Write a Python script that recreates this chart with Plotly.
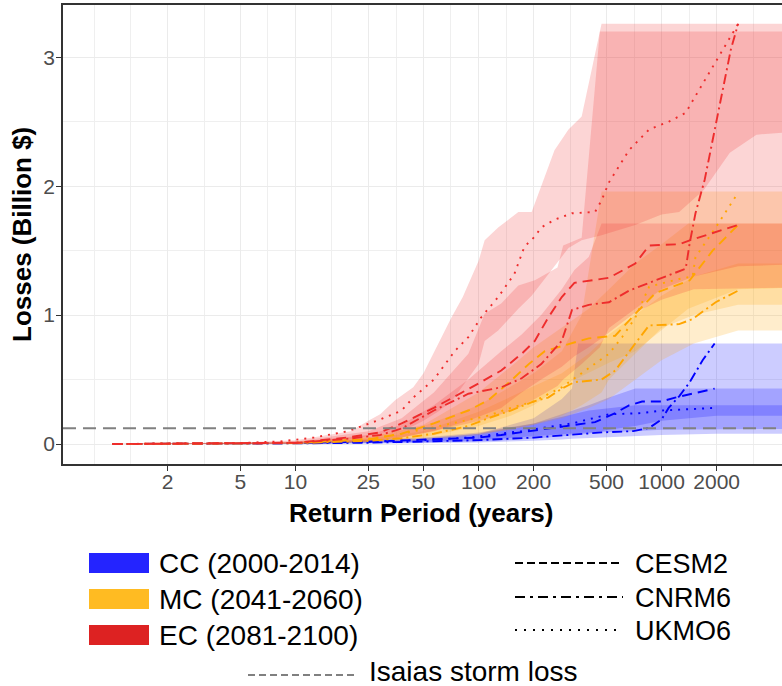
import plotly.graph_objects as go

# ---------------- data: return period (years) vs. loss (billion $) ----------------
cc_cesm2_rp = [1, 5, 10, 25, 50, 100, 133, 240, 324, 433, 558, 664, 783, 1000, 1186, 1950]
cc_cesm2_loss = [0, 0.003, 0.008, 0.018, 0.035, 0.05, 0.07, 0.12, 0.15, 0.17, 0.24, 0.30, 0.33, 0.33, 0.36, 0.43]
cc_cnrm6_rp = [1, 5, 10, 25, 50, 100, 200, 300, 470, 700, 855, 1000, 1093, 1248, 1425, 1676, 1950]
cc_cnrm6_loss = [0, 0.002, 0.005, 0.01, 0.018, 0.03, 0.05, 0.07, 0.09, 0.10, 0.125, 0.19, 0.28, 0.37, 0.48, 0.65, 0.78]
cc_ukmo6_rp = [1, 5, 10, 25, 50, 88, 172, 324, 433, 516, 783, 1000, 1950]
cc_ukmo6_loss = [0, 0.003, 0.008, 0.018, 0.03, 0.05, 0.10, 0.16, 0.20, 0.23, 0.24, 0.26, 0.28]

mc_cesm2_rp = [1, 5, 10, 25, 38, 57, 88, 113, 150, 188, 230, 285, 400, 558, 718, 924, 1425, 1900, 2390, 2620]
mc_cesm2_loss = [0, 0.003, 0.008, 0.035, 0.08, 0.16, 0.26, 0.34, 0.49, 0.62, 0.72, 0.76, 0.82, 0.84, 1.01, 1.17, 1.27, 1.50, 1.64, 1.70]
mc_cnrm6_rp = [1, 5, 10, 25, 38, 57, 88, 113, 150, 200, 240, 285, 334, 470, 558, 718, 855, 1248, 1478, 1975, 2620]
mc_cnrm6_loss = [0, 0.002, 0.006, 0.025, 0.045, 0.08, 0.14, 0.20, 0.26, 0.33, 0.36, 0.43, 0.48, 0.50, 0.57, 0.78, 0.92, 0.93, 0.97, 1.10, 1.19]
mc_ukmo6_rp = [1, 5, 10, 25, 38, 57, 88, 113, 150, 200, 285, 400, 516, 609, 718, 855, 1248, 1478, 1532, 1975, 2620]
mc_ukmo6_loss = [0, 0.003, 0.01, 0.04, 0.08, 0.13, 0.19, 0.22, 0.28, 0.33, 0.44, 0.59, 0.70, 0.83, 0.98, 1.22, 1.28, 1.30, 1.45, 1.68, 1.95]

ec_cesm2_rp = [1, 5, 10, 19, 29, 38, 57, 100, 133, 172, 203, 240, 285, 334, 516, 718, 855, 1248, 1425, 2620]
ec_cesm2_loss = [0, 0.004, 0.01, 0.05, 0.09, 0.16, 0.28, 0.47, 0.57, 0.70, 0.80, 0.98, 1.14, 1.25, 1.29, 1.40, 1.54, 1.55, 1.58, 1.70]
ec_cnrm6_rp = [1, 5, 10, 19, 29, 38, 57, 88, 133, 172, 220, 285, 324, 400, 516, 664, 855, 1355, 1425, 1532, 1720, 2026, 2390, 2620]
ec_cnrm6_loss = [0, 0.003, 0.008, 0.04, 0.07, 0.12, 0.26, 0.39, 0.44, 0.51, 0.62, 0.80, 1.04, 1.08, 1.10, 1.19, 1.25, 1.36, 1.56, 1.79, 2.05, 2.54, 3.06, 3.26]
ec_ukmo6_rp = [1, 5, 8.3, 12.6, 19.4, 29, 38, 44, 57, 74, 88, 103, 128, 157, 178, 203, 220, 260, 324, 433, 470, 516, 664, 855, 1093, 1355, 1532, 1975, 2620]
ec_ukmo6_loss = [0, 0.008, 0.02, 0.05, 0.10, 0.19, 0.26, 0.36, 0.50, 0.72, 0.83, 0.98, 1.14, 1.32, 1.53, 1.61, 1.68, 1.74, 1.79, 1.80, 1.89, 2.03, 2.28, 2.44, 2.50, 2.57, 2.70, 2.96, 3.26]

# ---------------- confidence bands (lower / upper) ----------------
cc_cesm2_band_rp = [1, 10, 50, 100, 200, 285, 400, 516, 718, 1000, 2000, 8000]
cc_cesm2_band_lo = [0, 0.002, 0.012, 0.02, 0.04, 0.06, 0.08, 0.11, 0.14, 0.18, 0.22, 0.22]
cc_cesm2_band_hi = [0, 0.01, 0.045, 0.08, 0.16, 0.23, 0.30, 0.36, 0.43, 0.43, 0.43, 0.43]
cc_cnrm6_band_rp = [1, 10, 25, 50, 100, 200, 285, 324, 350, 400, 1000, 2000, 8000]
cc_cnrm6_band_lo = [0, 0, 0.002, 0.005, 0.012, 0.025, 0.035, 0.04, 0.045, 0.05, 0.07, 0.08, 0.08]
cc_cnrm6_band_hi = [0, 0.008, 0.02, 0.04, 0.08, 0.2, 0.35, 0.43, 0.78, 0.78, 0.78, 0.78, 0.78]
cc_ukmo6_band_rp = [1, 10, 50, 100, 200, 285, 400, 718, 1000, 8000]
cc_ukmo6_band_lo = [0, 0.003, 0.015, 0.03, 0.06, 0.075, 0.09, 0.10, 0.11, 0.12]
cc_ukmo6_band_hi = [0, 0.012, 0.05, 0.09, 0.16, 0.21, 0.26, 0.30, 0.30, 0.30]

mc_cesm2_band_rp = [1, 10, 25, 50, 100, 150, 200, 285, 400, 516, 718, 1000, 1400, 2620, 8000]
mc_cesm2_band_lo = [0, 0.003, 0.02, 0.05, 0.14, 0.22, 0.30, 0.45, 0.55, 0.63, 0.72, 0.88, 1.05, 1.2, 1.22]
mc_cesm2_band_hi = [0, 0.015, 0.05, 0.15, 0.40, 0.60, 0.75, 0.90, 1.05, 1.20, 1.40, 1.55, 1.71, 1.71, 1.71]
mc_cnrm6_band_rp = [1, 10, 25, 50, 100, 200, 285, 400, 516, 718, 1000, 1500, 2620, 8000]
mc_cnrm6_band_lo = [0, 0.002, 0.012, 0.03, 0.07, 0.15, 0.2, 0.28, 0.35, 0.5, 0.65, 0.78, 0.88, 0.88]
mc_cnrm6_band_hi = [0, 0.01, 0.04, 0.1, 0.25, 0.45, 0.55, 0.7, 0.85, 1.0, 1.15, 1.3, 1.4, 1.4]
mc_ukmo6_band_rp = [1, 10, 25, 50, 100, 150, 200, 285, 366, 470, 516, 718, 1000, 1500, 2620, 8000]
mc_ukmo6_band_lo = [0, 0.003, 0.015, 0.04, 0.08, 0.11, 0.15, 0.22, 0.3, 0.4, 0.5, 0.7, 0.9, 1.0, 1.08, 1.08]
mc_ukmo6_band_hi = [0, 0.015, 0.06, 0.14, 0.30, 0.45, 0.55, 0.72, 1.0, 1.96, 1.96, 1.96, 1.96, 1.96, 1.96, 1.96]

ec_cesm2_band_rp = [1, 10, 25, 38, 57, 88, 133, 172, 220, 285, 334, 400, 470, 718, 1000, 1500, 8000]
ec_cesm2_band_lo = [0, 0.003, 0.02, 0.05, 0.1, 0.18, 0.28, 0.4, 0.5, 0.6, 0.68, 0.75, 0.82, 1.02, 1.12, 1.2, 1.22]
ec_cesm2_band_hi = [0, 0.015, 0.07, 0.15, 0.3, 0.5, 0.72, 0.85, 1.0, 1.2, 1.35, 1.45, 1.71, 1.71, 1.71, 1.71, 1.71]
ec_cnrm6_band_rp = [1, 10, 25, 38, 57, 88, 108, 133, 165, 203, 270, 290, 366, 460, 516, 718, 1000, 1500, 2620, 8000]
ec_cnrm6_band_lo = [0, 0.003, 0.02, 0.05, 0.1, 0.16, 0.19, 0.23, 0.28, 0.35, 0.45, 0.5, 0.62, 0.75, 0.9, 1.05, 1.2, 1.3, 1.38, 1.4]
ec_cnrm6_band_hi = [0, 0.02, 0.1, 0.2, 0.4, 0.7, 1.01, 1.09, 1.23, 1.27, 1.37, 1.54, 1.60, 3.20, 3.20, 3.2, 3.2, 3.2, 3.2, 3.2]
ec_ukmo6_band_rp = [1, 5, 10, 20, 25, 29, 35, 44, 50, 60, 71, 82, 100, 108, 128, 165, 195, 220, 260, 310, 366, 470, 718, 1000, 1248, 1700, 2360, 3300, 8000]
ec_ukmo6_band_lo = [0, 0.002, 0.01, 0.04, 0.06, 0.08, 0.1, 0.14, 0.18, 0.25, 0.33, 0.45, 0.62, 0.8, 0.88, 1.05, 1.15, 1.25, 1.38, 1.52, 1.58, 1.62, 1.70, 1.78, 1.80, 1.97, 2.26, 2.40, 2.44]
ec_ukmo6_band_hi = [0, 0.01, 0.03, 0.1, 0.18, 0.23, 0.34, 0.44, 0.55, 0.78, 0.98, 1.14, 1.42, 1.58, 1.68, 1.80, 1.80, 2.0, 2.28, 2.44, 2.54, 3.26, 3.26, 3.26, 3.26, 3.26, 3.26, 3.26, 3.26]

isaias_loss = 0.122

x_tick_vals = [2, 5, 10, 25, 50, 100, 200, 500, 1000, 2000]
x_minor_vals = [0.795, 1.257, 3.162, 7.07, 15.8, 35.4, 70.7, 141.4, 316.2, 707.1, 1414, 3162]
y_tick_vals = [0, 1, 2, 3]
y_minor_vals = [0.5, 1.5, 2.5]

periods = ["CC", "MC", "EC"]
period_labels = ["CC (2000-2014)", "MC (2041-2060)", "EC (2081-2100)"]
models = ["CESM2", "CNRM6", "UKMO6"]

# ---------------- styling ----------------
LINE_COLOR = {"CC": "#0000FF", "MC": "#FFA500", "EC": "#EE2C2C"}
FILL_COLOR = {"CC": "rgba(0,0,255,0.2)", "MC": "rgba(255,165,0,0.2)", "EC": "rgba(238,44,44,0.2)"}
KEY_COLOR = {"CC": "#2424FF", "MC": "#FFBB22", "EC": "#DD2222"}
DASH = {"CESM2": "10px,6px", "CNRM6": "10px,4px,2px,4px", "UKMO6": "2px,6px"}
KEY_DASH = {"CESM2": "8px,4px", "CNRM6": "10px,5px,3px,5px", "UKMO6": "2px,7px"}
FONT = "Liberation Sans, Arial, sans-serif"

lines = {
    ("CC", "CESM2"): (cc_cesm2_rp, cc_cesm2_loss),
    ("CC", "CNRM6"): (cc_cnrm6_rp, cc_cnrm6_loss),
    ("CC", "UKMO6"): (cc_ukmo6_rp, cc_ukmo6_loss),
    ("MC", "CESM2"): (mc_cesm2_rp, mc_cesm2_loss),
    ("MC", "CNRM6"): (mc_cnrm6_rp, mc_cnrm6_loss),
    ("MC", "UKMO6"): (mc_ukmo6_rp, mc_ukmo6_loss),
    ("EC", "CESM2"): (ec_cesm2_rp, ec_cesm2_loss),
    ("EC", "CNRM6"): (ec_cnrm6_rp, ec_cnrm6_loss),
    ("EC", "UKMO6"): (ec_ukmo6_rp, ec_ukmo6_loss),
}
bands = {
    ("CC", "CESM2"): (cc_cesm2_band_rp, cc_cesm2_band_lo, cc_cesm2_band_hi),
    ("CC", "CNRM6"): (cc_cnrm6_band_rp, cc_cnrm6_band_lo, cc_cnrm6_band_hi),
    ("CC", "UKMO6"): (cc_ukmo6_band_rp, cc_ukmo6_band_lo, cc_ukmo6_band_hi),
    ("MC", "CESM2"): (mc_cesm2_band_rp, mc_cesm2_band_lo, mc_cesm2_band_hi),
    ("MC", "CNRM6"): (mc_cnrm6_band_rp, mc_cnrm6_band_lo, mc_cnrm6_band_hi),
    ("MC", "UKMO6"): (mc_ukmo6_band_rp, mc_ukmo6_band_lo, mc_ukmo6_band_hi),
    ("EC", "CESM2"): (ec_cesm2_band_rp, ec_cesm2_band_lo, ec_cesm2_band_hi),
    ("EC", "CNRM6"): (ec_cnrm6_band_rp, ec_cnrm6_band_lo, ec_cnrm6_band_hi),
    ("EC", "UKMO6"): (ec_ukmo6_band_rp, ec_ukmo6_band_lo, ec_ukmo6_band_hi),
}

fig = go.Figure()

# shaded uncertainty bands
for p in periods:
    for m in models:
        rp, lo, hi = bands[(p, m)]
        fig.add_trace(go.Scatter(
            x=list(rp) + list(rp)[::-1], y=list(hi) + list(lo)[::-1],
            fill="toself", fillcolor=FILL_COLOR[p], mode="lines",
            line=dict(width=0), hoverinfo="skip", showlegend=False))

# model curves
for p in periods:
    for m in models:
        rp, loss = lines[(p, m)]
        fig.add_trace(go.Scatter(
            x=rp, y=loss, mode="lines", name=f"{p} {m}",
            line=dict(color=LINE_COLOR[p], width=1.9, dash=DASH[m]),
            showlegend=False))

# ---------------- layout ----------------
W, H = 782, 686
ML, MR, MT, MB = 63, 0, 5, 222
PW, PH = W - ML - MR, H - MT - MB


def px(x):
    return (x - ML) / PW


def py(y):
    return (H - MB - y) / PH


axis_common = dict(
    showgrid=True, gridcolor="#EBEBEB", gridwidth=1.4, zeroline=False,
    showline=True, linecolor="#333333", linewidth=1.5,
    ticks="outside", ticklen=5, tickwidth=1.4, tickcolor="#333333",
    tickfont=dict(family=FONT, size=21, color="#4D4D4D"),
)

fig.update_layout(
    width=W, height=H,
    margin=dict(l=ML, r=MR, t=MT, b=MB, pad=0),
    paper_bgcolor="white", plot_bgcolor="white",
    font=dict(family=FONT),
    xaxis=dict(
        type="log", range=[-0.2704, 3.658],
        tickmode="array", tickvals=x_tick_vals, ticktext=[str(v) for v in x_tick_vals],
        mirror=True, ticklabelstandoff=-7,
        minor=dict(tickvals=x_minor_vals, showgrid=True, gridcolor="#EFEFEF", gridwidth=0.8, ticks=""),
        **axis_common),
    yaxis=dict(
        range=[-0.155, 3.406],
        tickmode="array", tickvals=y_tick_vals, ticktext=[str(v) for v in y_tick_vals],
        ticklabelstandoff=-3,
        minor=dict(tickvals=y_minor_vals, showgrid=True, gridcolor="#EFEFEF", gridwidth=0.8, ticks=""),
        **axis_common),
)

# reference storm loss
fig.add_hline(y=isaias_loss, line=dict(color="#808080", width=2, dash="13px,7px"))


def add_text(text, x, y, size, xanchor="center", angle=0, bold=False):
    fig.add_annotation(text=f"<b>{text}</b>" if bold else text,
                       x=px(x), y=py(y), xref="paper", yref="paper",
                       xanchor=xanchor, yanchor="middle", textangle=angle,
                       showarrow=False, font=dict(size=size, color="black", family=FONT))


# axis titles
add_text("Losses (Billion $)", 22, 235, 26, angle=-90, bold=True)
add_text("Return Period (years)", 421, 513, 26, bold=True)

# period legend (filled keys)
key_rows = [563, 599, 635]
for p, lab, yc in zip(periods, period_labels, key_rows):
    fig.add_shape(type="rect", xref="paper", yref="paper",
                  x0=px(89), x1=px(149), y0=py(yc - 10), y1=py(yc + 10),
                  fillcolor=KEY_COLOR[p], line=dict(width=0))
    add_text(lab, 157, yc, 28, xanchor="left")

# model legend (line-type keys)
model_rows = [563, 597, 630]
for m, yc in zip(models, model_rows):
    fig.add_shape(type="line", xref="paper", yref="paper",
                  x0=px(515), x1=px(623), y0=py(yc), y1=py(yc),
                  line=dict(color="black", width=2.2, dash=KEY_DASH[m]))
    add_text(m, 633, yc + 1, 27, xanchor="left")

# storm loss legend entry
fig.add_shape(type="line", xref="paper", yref="paper",
              x0=px(248), x1=px(355), y0=py(675), y1=py(675),
              line=dict(color="#808080", width=2.2, dash="7px,4px"))
add_text("Isaias storm loss", 367, 672, 28, xanchor="left")

fig.write_html("out.html")
